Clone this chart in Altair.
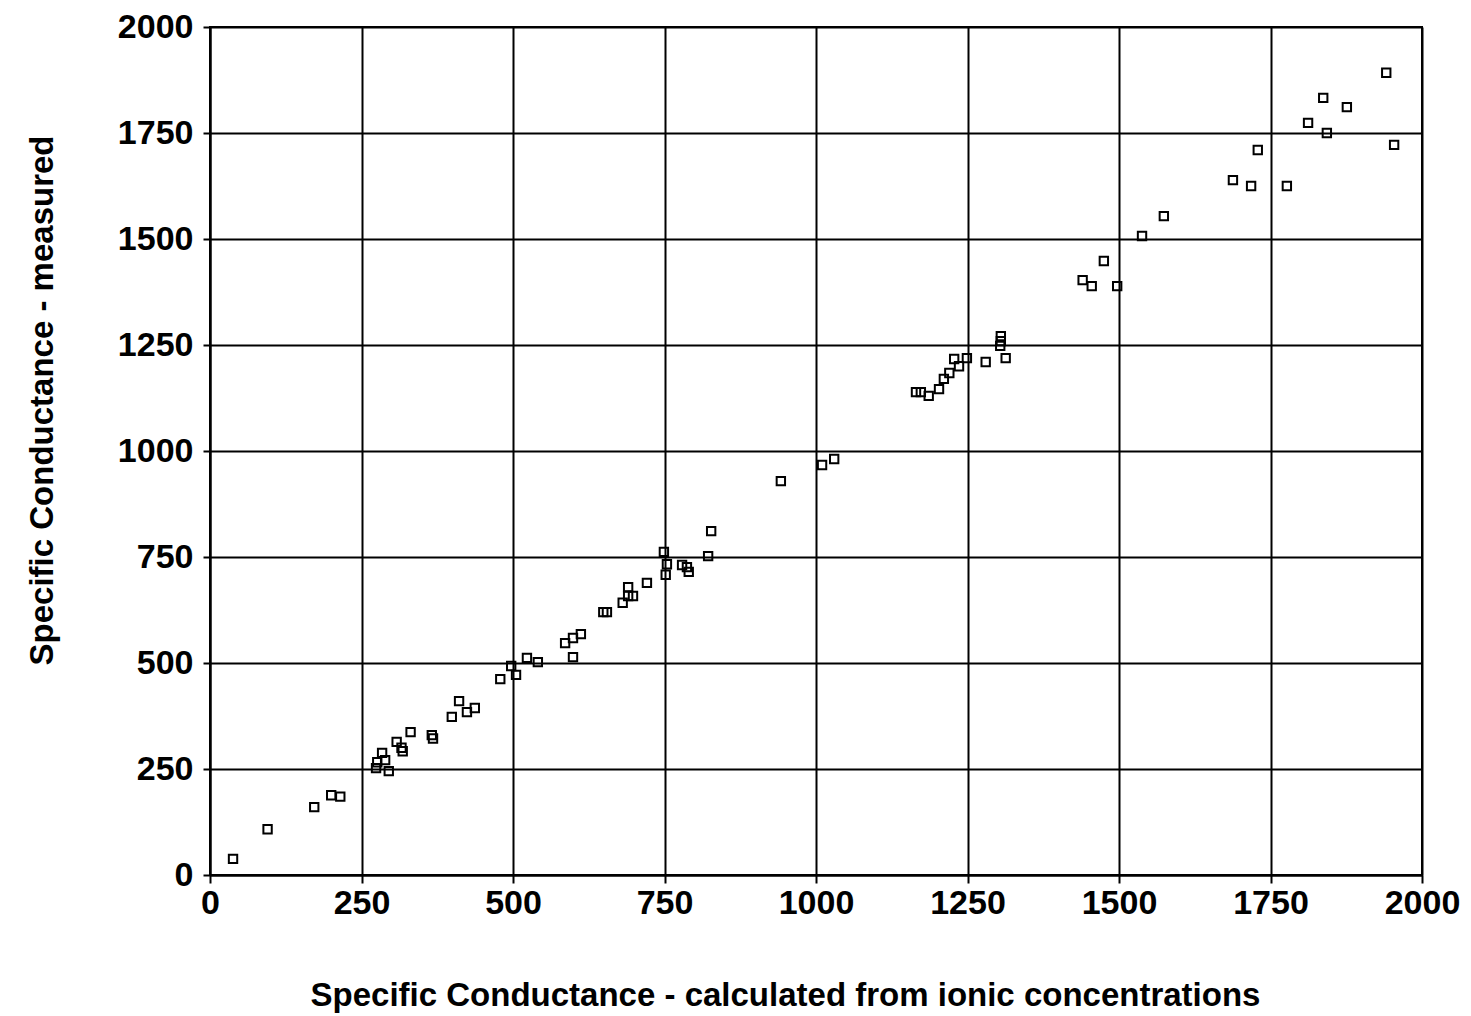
import altair as alt
import pandas as pd

calc = [38, 95, 172, 200, 215,
        274, 276, 284, 289, 295, 308, 316, 318, 331, 366, 368,
        399, 411, 424, 437, 479, 497, 505, 523, 541,
        586, 599, 612, 599,
        649, 655, 681, 690, 698, 690, 721,
        749, 752, 754, 779, 787, 790, 822, 827,
        942, 1010, 1030,
        1165, 1173, 1186, 1203, 1211, 1220, 1228, 1236, 1249, 1280, 1304, 1305, 1305, 1313,
        1440, 1455, 1475, 1497,
        1538, 1574, 1688, 1718, 1729, 1777,
        1812, 1837, 1843, 1876, 1941, 1954]
measured = [38, 108, 160, 188, 185,
            252, 266, 288, 271, 245, 314, 300, 292, 337, 330, 322,
            373, 410, 384, 394, 462, 493, 472, 512, 502,
            547, 559, 568, 514,
            620, 620, 642, 658, 658, 679, 689,
            762, 708, 733, 731, 726, 715, 752, 811,
            929, 967, 981,
            1139, 1139, 1130, 1146, 1170, 1184, 1217, 1200, 1219, 1210, 1248, 1259, 1271, 1219,
            1403, 1389, 1448, 1389,
            1507, 1554, 1639, 1625, 1710, 1625,
            1774, 1833, 1750, 1811, 1892, 1722]
ticks = [0, 250, 500, 750, 1000, 1250, 1500, 1750, 2000]

df = pd.DataFrame({"calc": calc, "measured": measured})

FONT = "Liberation Sans"

chart = alt.Chart(df).mark_point(
    shape="square", filled=False, size=70, strokeWidth=2, color="black", opacity=1
).encode(
    x=alt.X("calc:Q",
            scale=alt.Scale(domain=[0, 2000], nice=False, zero=True),
            axis=alt.Axis(values=ticks, format="d",
                          title="Specific Conductance - calculated from ionic concentrations",
                          labelFontSize=34, labelPadding=3, tickSize=8,
                          titleX=575, titleY=120, titleBaseline="middle", titleAlign="center",
                          titleFontSize=33)),
    y=alt.Y("measured:Q",
            scale=alt.Scale(domain=[0, 2000], nice=False, zero=True),
            axis=alt.Axis(values=ticks, format="d", title="Specific Conductance - measured",
                          labelFontSize=34, labelPadding=10, tickSize=7,
                          titleX=-168, titleY=373, titleAngle=270, titleBaseline="middle",
                          titleAlign="center", titleFontSize=33)),
).properties(
    width=1212, height=848,
    autosize=alt.AutoSizeParams(type="none"),
    padding={"left": 202, "top": 19, "right": 39, "bottom": 140},
    background="white",
).configure_view(
    stroke="black", strokeWidth=2
).configure_axis(
    labelFont=FONT, titleFont=FONT, labelFontWeight="bold", titleFontWeight="bold",
    labelColor="black", titleColor="black",
    domainColor="black", domainWidth=2, tickColor="black", tickWidth=2,
    gridColor="black", gridWidth=2, gridOpacity=1,
    labelFlush=False, labelOverlap=False,
)

chart.save("out.html", embed_options={"renderer": "svg", "actions": False})
